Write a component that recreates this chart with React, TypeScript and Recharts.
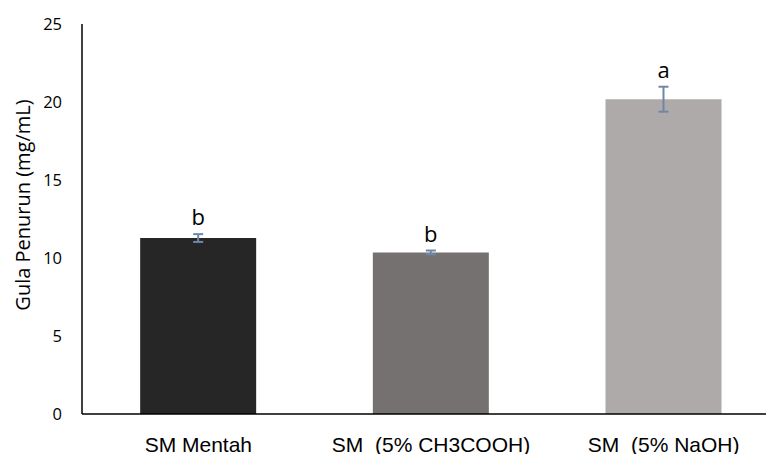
import React from 'react';
import { Bar, BarChart, Cell, ErrorBar, LabelList, XAxis, YAxis } from 'recharts';

const categories = ['SM Mentah', 'SM  (5% CH3COOH)', 'SM  (5% NaOH)'];
const values = [11.28, 10.36, 20.18];
const errors = [0.25, 0.12, 0.8];
const letters = ['b', 'b', 'a'];
const colors = ['#262626', '#767171', '#AEAAAA'];
const yTicks = [0, 5, 10, 15, 20, 25];

const data = categories.map((name, i) => ({
  name,
  value: values[i],
  err: errors[i],
  letter: letters[i],
}));

const CategoryTick = (props: any) => {
  const { x, y, payload } = props;
  return (
    <text
      x={x}
      y={y + 30}
      textAnchor="middle"
      fill="#000"
      fontSize={21}
      fontFamily="'Liberation Sans', Arial, sans-serif"
      style={{ whiteSpace: 'pre' }}
    >
      {payload.value}
    </text>
  );
};

const LetterLabel = (props: any) => {
  const { x, y, width, height, index } = props;
  const perUnit = height / values[index];
  const top = y - errors[index] * perUnit;
  return (
    <text
      x={x + width / 2}
      y={top - 9}
      textAnchor="middle"
      fill="#000"
      fontSize={22}
      fontFamily="'Open Sans', sans-serif"
    >
      {letters[index]}
    </text>
  );
};

const YLabel = () => (
  <text
    x={0}
    y={0}
    transform="translate(30, 205) rotate(-90)"
    textAnchor="middle"
    fill="#000"
    fontSize={20}
    fontFamily="'Open Sans', sans-serif"
  >
    Gula Penurun (mg/mL)
  </text>
);

const App = () => {
  return (
    <div
      style={{
        position: 'fixed',
        left: 0,
        top: 0,
        width: 766,
        height: 454,
        overflow: 'hidden',
        background: '#fff',
      }}
    >
      <BarChart
        width={800}
        height={454}
        data={data}
        margin={{ top: 24, right: 20, left: 0, bottom: 0 }}
        barCategoryGap="25%"
      >
        <XAxis
          dataKey="name"
          axisLine={{ stroke: '#000', strokeWidth: 1.5 }}
          tickLine={false}
          height={40}
          interval={0}
          tick={<CategoryTick />}
        />
        <YAxis
          width={82}
          domain={[0, 25]}
          ticks={yTicks}
          axisLine={{ stroke: '#000', strokeWidth: 1.5 }}
          tickLine={false}
          tickSize={0}
          tickMargin={20}
          tick={{ fill: '#000', fontSize: 16.5, fontFamily: "'Open Sans', sans-serif" }}
          label={<YLabel />}
        />
        <Bar dataKey="value" isAnimationActive={false}>
          {data.map((d, i) => (
            <Cell key={d.name} fill={colors[i]} />
          ))}
          <ErrorBar dataKey="err" width={5} stroke="#6F87A7" strokeWidth={2} />
          <LabelList dataKey="letter" content={<LetterLabel />} />
        </Bar>
      </BarChart>
    </div>
  );
};

export default App;
